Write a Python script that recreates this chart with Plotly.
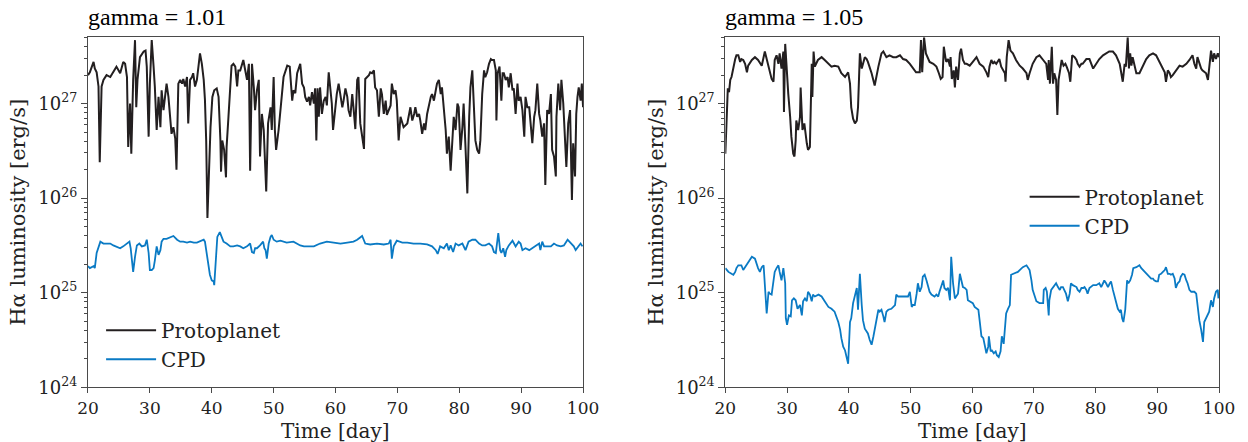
import plotly.graph_objects as go

# ---- data: (time [day], log10 Halpha luminosity [erg/s]) ----
proto_g101 = [
    (20.0, 27.30), (20.3, 27.33), (20.9, 27.44), (21.1, 27.37), (21.4, 27.33), (21.7, 27.18), (21.9, 26.38),
    (22.2, 27.18), (22.5, 27.25), (23.0, 27.30), (23.6, 27.28), (24.1, 27.33), (24.6, 27.39), (25.2, 27.32),
    (25.7, 27.44), (26.0, 27.42), (26.3, 27.28), (26.5, 26.54), (26.8, 27.00), (27.0, 26.47), (27.3, 27.25),
    (27.6, 27.67), (27.8, 26.96), (28.0, 27.25), (28.4, 27.49), (29.0, 27.55), (29.3, 27.56), (29.5, 27.39),
    (29.8, 26.65), (30.0, 27.21), (30.3, 27.67), (30.6, 27.39), (30.8, 27.18), (31.1, 26.72), (31.4, 27.07),
    (31.7, 26.75), (31.9, 27.14), (32.2, 26.93), (32.5, 27.07), (32.7, 27.21), (33.0, 27.07), (33.3, 26.82),
    (33.5, 26.68), (33.8, 26.75), (34.1, 26.63), (34.3, 26.30), (34.6, 27.21), (34.9, 27.25), (35.2, 27.21),
    (35.4, 27.26), (35.7, 27.18), (36.0, 27.28), (36.2, 26.79), (36.5, 27.25), (36.8, 27.28), (37.0, 27.32),
    (37.3, 27.18), (37.6, 27.25), (37.8, 27.39), (38.1, 27.53), (38.4, 27.42), (38.7, 27.25), (38.9, 27.04),
    (39.1, 26.61), (39.3, 25.79), (39.6, 26.51), (39.8, 26.75), (40.1, 27.07), (40.4, 27.14), (40.8, 27.16),
    (41.1, 27.07), (41.4, 26.61), (41.5, 26.28), (41.7, 26.61), (42.0, 26.51), (42.3, 26.22), (42.4, 26.54),
    (42.7, 26.86), (43.0, 27.18), (43.2, 27.40), (43.5, 27.42), (43.8, 27.39), (44.1, 27.18), (44.3, 27.35),
    (44.6, 27.35), (45.1, 27.46), (45.7, 27.25), (46.0, 27.42), (46.2, 26.29), (46.5, 27.42), (46.8, 27.17),
    (47.0, 26.93), (47.3, 27.14), (47.6, 27.25), (47.8, 26.44), (48.1, 26.89), (48.4, 26.72), (48.6, 26.44),
    (48.8, 26.07), (49.1, 26.79), (49.5, 26.96), (49.7, 26.72), (50.0, 27.28), (50.2, 26.72), (50.4, 26.51),
    (50.8, 26.72), (51.1, 26.93), (51.3, 27.14), (51.6, 27.28), (52.2, 27.40), (52.6, 27.39), (53.0, 27.03),
    (53.2, 27.14), (53.5, 27.11), (53.8, 27.32), (54.3, 27.42), (54.6, 27.21), (54.9, 27.17), (55.1, 27.07),
    (55.4, 27.02), (55.7, 27.07), (55.9, 26.98), (56.2, 27.12), (56.5, 27.00), (56.7, 27.16), (56.9, 26.61),
    (57.1, 27.16), (57.3, 26.86), (57.5, 27.17), (57.8, 26.89), (58.1, 27.03), (58.4, 27.07), (58.6, 26.98),
    (58.9, 27.33), (59.2, 27.14), (59.4, 27.00), (59.6, 26.72), (60.0, 27.03), (60.2, 27.10), (60.5, 27.21),
    (60.8, 27.07), (61.1, 26.96), (61.3, 27.03), (61.6, 27.16), (61.9, 27.07), (62.1, 26.93), (62.4, 26.86),
    (62.7, 27.10), (62.9, 26.96), (63.2, 26.73), (63.5, 27.25), (63.7, 27.28), (64.0, 26.79), (64.3, 26.65),
    (64.6, 26.52), (64.8, 27.26), (65.1, 27.28), (65.4, 27.30), (65.6, 27.33), (65.9, 27.32), (66.2, 27.35),
    (66.4, 27.17), (66.7, 27.14), (67.0, 26.86), (67.3, 27.16), (67.5, 27.10), (67.8, 26.89), (68.1, 27.03),
    (68.3, 26.88), (68.6, 26.93), (68.9, 26.98), (69.1, 27.21), (69.4, 27.10), (69.7, 27.14), (69.9, 27.03),
    (70.2, 26.61), (70.5, 26.86), (71.0, 26.75), (71.6, 26.79), (72.1, 26.96), (72.4, 26.82), (72.7, 26.89),
    (72.9, 26.96), (73.2, 26.86), (73.5, 26.89), (73.7, 26.82), (74.0, 26.68), (74.3, 26.79), (74.5, 26.72),
    (74.8, 26.89), (75.1, 27.00), (75.4, 27.07), (75.6, 27.10), (75.9, 27.03), (76.2, 27.14), (76.4, 27.21),
    (76.7, 27.25), (77.0, 27.10), (77.2, 27.17), (77.5, 26.96), (77.8, 26.72), (78.0, 26.47), (78.3, 26.65),
    (78.6, 26.29), (78.9, 26.58), (79.1, 26.86), (79.4, 26.72), (79.7, 27.00), (79.9, 26.96), (80.2, 26.51),
    (80.5, 26.75), (80.7, 27.00), (81.0, 26.54), (81.3, 26.05), (81.6, 26.86), (81.8, 27.17), (82.1, 27.35),
    (82.4, 26.79), (82.6, 26.61), (82.9, 26.51), (83.2, 26.47), (83.4, 26.61), (83.7, 27.10), (84.0, 27.35),
    (84.2, 27.28), (84.5, 27.33), (84.8, 27.42), (85.1, 27.47), (85.3, 27.46), (85.6, 27.46), (85.9, 27.35),
    (86.0, 26.82), (86.2, 27.32), (86.5, 27.39), (86.8, 27.03), (87.0, 27.32), (87.2, 27.32), (87.5, 27.25),
    (87.8, 27.28), (88.0, 27.17), (88.3, 27.32), (88.6, 27.14), (88.8, 27.16), (89.1, 26.89), (89.4, 27.21),
    (89.6, 27.03), (89.9, 27.07), (90.2, 26.93), (90.5, 26.65), (90.7, 27.07), (91.0, 26.96), (91.3, 26.96),
    (91.5, 26.79), (91.8, 26.58), (92.1, 26.86), (92.3, 26.93), (92.6, 27.21), (92.9, 26.89), (93.1, 26.82),
    (93.4, 26.65), (93.7, 26.79), (93.9, 26.14), (94.2, 26.93), (94.5, 26.89), (94.8, 27.10), (95.0, 26.51),
    (95.3, 26.44), (95.6, 26.23), (95.7, 26.86), (96.0, 27.21), (96.3, 26.93), (96.5, 27.25), (96.8, 27.00),
    (97.1, 26.58), (97.3, 26.33), (97.6, 26.79), (97.9, 26.93), (98.2, 25.98), (98.4, 26.58), (98.7, 26.23),
    (98.9, 26.89), (99.1, 27.07), (99.3, 27.17), (99.6, 27.03), (99.8, 27.21), (100.0, 26.96),
]

cpd_g101 = [
    (20.0, 25.28), (20.3, 25.26), (20.9, 25.28), (21.1, 25.26), (21.4, 25.42), (22.0, 25.54), (22.5, 25.52),
    (23.0, 25.52), (23.6, 25.52), (24.1, 25.50), (24.6, 25.49), (25.2, 25.47), (25.7, 25.49), (26.3, 25.52),
    (26.7, 25.54), (26.9, 25.47), (27.2, 25.31), (27.3, 25.22), (27.6, 25.38), (27.9, 25.50), (28.3, 25.52),
    (28.7, 25.49), (29.2, 25.50), (29.5, 25.56), (29.8, 25.42), (30.0, 25.24), (30.3, 25.24), (30.6, 25.26),
    (30.8, 25.34), (31.1, 25.49), (31.4, 25.40), (31.7, 25.45), (31.9, 25.54), (32.2, 25.57), (32.7, 25.57),
    (33.3, 25.59), (33.8, 25.60), (34.4, 25.56), (34.9, 25.54), (35.4, 25.54), (36.0, 25.53), (36.5, 25.54),
    (37.1, 25.53), (37.6, 25.53), (38.1, 25.54), (38.7, 25.56), (38.9, 25.54), (39.2, 25.42), (39.5, 25.28),
    (39.7, 25.19), (40.0, 25.13), (40.3, 25.12), (40.4, 25.08), (40.7, 25.42), (40.9, 25.59), (41.3, 25.64),
    (41.6, 25.59), (41.9, 25.54), (42.4, 25.52), (43.0, 25.49), (43.5, 25.49), (44.1, 25.50), (44.6, 25.49),
    (45.1, 25.47), (45.7, 25.49), (46.2, 25.52), (46.5, 25.43), (46.8, 25.42), (47.0, 25.47), (47.3, 25.47),
    (47.8, 25.50), (48.3, 25.54), (48.5, 25.47), (48.7, 25.45), (48.9, 25.36), (49.2, 25.52), (49.5, 25.59),
    (49.7, 25.61), (50.0, 25.56), (50.5, 25.54), (51.1, 25.55), (52.1, 25.53), (53.2, 25.54), (54.3, 25.50),
    (54.9, 25.49), (55.4, 25.49), (56.5, 25.49), (57.5, 25.52), (58.6, 25.54), (59.7, 25.53), (60.8, 25.52),
    (61.9, 25.53), (62.9, 25.54), (63.5, 25.56), (64.3, 25.60), (64.8, 25.52), (65.6, 25.51), (66.7, 25.52),
    (67.8, 25.51), (68.6, 25.52), (68.9, 25.56), (69.1, 25.36), (69.4, 25.49), (69.9, 25.55), (70.8, 25.53),
    (71.6, 25.53), (72.6, 25.52), (73.7, 25.52), (74.8, 25.51), (75.6, 25.49), (76.2, 25.45), (76.5, 25.41),
    (76.9, 25.49), (77.5, 25.47), (78.0, 25.52), (78.3, 25.45), (78.6, 25.50), (79.0, 25.43), (79.4, 25.52),
    (79.9, 25.50), (80.5, 25.52), (81.0, 25.45), (81.5, 25.54), (82.1, 25.56), (82.6, 25.56), (83.2, 25.52),
    (83.7, 25.50), (84.2, 25.50), (84.8, 25.52), (85.3, 25.49), (85.6, 25.43), (85.9, 25.42), (86.3, 25.63),
    (86.6, 25.45), (86.8, 25.42), (87.1, 25.47), (87.4, 25.38), (87.6, 25.45), (88.0, 25.50), (88.6, 25.55),
    (89.1, 25.49), (89.6, 25.54), (89.9, 25.52), (90.2, 25.45), (90.7, 25.47), (91.3, 25.45), (91.8, 25.47),
    (92.3, 25.49), (92.9, 25.52), (93.1, 25.45), (93.4, 25.54), (93.7, 25.49), (94.2, 25.49), (94.8, 25.49),
    (95.3, 25.52), (95.8, 25.50), (96.4, 25.49), (96.9, 25.50), (97.5, 25.56), (98.0, 25.52), (98.5, 25.49),
    (98.8, 25.45), (99.2, 25.49), (99.6, 25.52), (99.9, 25.49),
]

proto_g105 = [
    (20.0, 26.47), (20.2, 26.86), (20.4, 27.16), (20.6, 27.12), (20.8, 27.25), (21.0, 27.28), (21.3, 27.39),
    (21.6, 27.47), (21.8, 27.51), (22.1, 27.51), (22.4, 27.44), (22.6, 27.47), (22.9, 27.46), (23.2, 27.42),
    (23.5, 27.33), (23.7, 27.40), (24.3, 27.46), (24.8, 27.49), (25.3, 27.46), (25.9, 27.40), (26.4, 27.55),
    (26.7, 27.47), (27.0, 27.37), (27.5, 27.26), (27.8, 27.23), (28.0, 27.46), (28.3, 27.51), (28.6, 27.42),
    (28.8, 27.53), (29.1, 27.37), (29.4, 27.55), (29.5, 26.91), (29.7, 27.63), (29.9, 27.35), (30.2, 27.10),
    (30.5, 26.86), (30.7, 26.65), (31.0, 26.47), (31.2, 26.44), (31.4, 26.61), (31.5, 26.82), (31.8, 26.72),
    (32.1, 26.86), (32.2, 27.17), (32.5, 26.72), (32.8, 26.79), (33.0, 26.65), (33.2, 26.58), (33.4, 26.51),
    (33.7, 26.54), (34.0, 27.42), (34.1, 27.07), (34.3, 27.55), (34.5, 27.39), (35.0, 27.46), (35.6, 27.49),
    (36.1, 27.46), (36.7, 27.42), (37.2, 27.39), (37.7, 27.40), (38.3, 27.39), (38.8, 27.32), (39.4, 27.28),
    (39.9, 27.33), (40.2, 27.21), (40.4, 26.96), (40.7, 26.84), (41.0, 26.79), (41.3, 26.82), (41.5, 26.96),
    (41.8, 27.53), (42.1, 27.37), (42.6, 27.49), (42.9, 27.47), (43.1, 27.44), (43.7, 27.32), (44.2, 27.19),
    (44.8, 27.39), (45.3, 27.53), (45.6, 27.55), (46.1, 27.49), (46.6, 27.51), (47.2, 27.49), (47.7, 27.49),
    (48.3, 27.51), (48.8, 27.47), (49.3, 27.46), (49.9, 27.42), (50.4, 27.37), (50.9, 27.33), (51.5, 27.33),
    (51.7, 27.67), (51.9, 27.33), (52.2, 27.70), (52.5, 27.53), (52.9, 27.47), (53.1, 27.44), (53.7, 27.42),
    (54.2, 27.39), (54.6, 27.32), (54.9, 27.26), (55.2, 27.28), (55.4, 27.60), (55.7, 27.47), (55.8, 27.44),
    (56.1, 27.47), (56.4, 27.39), (56.5, 27.49), (56.7, 27.26), (57.0, 27.35), (57.2, 27.17), (57.4, 27.39),
    (57.7, 27.25), (58.0, 27.53), (58.2, 27.58), (58.5, 27.46), (58.8, 27.42), (59.1, 27.42), (59.6, 27.40),
    (60.1, 27.44), (60.7, 27.49), (61.2, 27.42), (61.8, 27.39), (62.3, 27.33), (62.6, 27.28), (62.8, 27.39),
    (63.1, 27.46), (63.4, 27.42), (63.6, 27.44), (63.9, 27.42), (64.2, 27.46), (64.4, 27.47), (64.7, 27.39),
    (65.0, 27.35), (65.3, 27.32), (65.4, 27.23), (65.6, 27.49), (65.9, 27.67), (66.2, 27.56), (66.6, 27.53),
    (67.1, 27.46), (67.7, 27.40), (68.2, 27.37), (68.8, 27.32), (69.0, 27.25), (69.3, 27.32), (69.8, 27.42),
    (70.4, 27.49), (70.9, 27.51), (71.5, 27.46), (72.0, 27.42), (72.3, 27.25), (72.4, 27.46), (72.6, 27.21),
    (72.9, 27.60), (73.1, 27.21), (73.3, 27.32), (73.6, 27.25), (73.8, 26.88), (74.0, 27.25), (74.3, 27.39),
    (74.5, 27.46), (74.8, 27.40), (75.1, 27.42), (75.3, 27.39), (75.7, 27.32), (75.9, 27.23), (76.2, 27.51),
    (76.6, 27.49), (76.9, 27.46), (77.1, 27.42), (77.4, 27.39), (77.7, 27.42), (77.9, 27.42), (78.5, 27.47),
    (79.0, 27.47), (79.6, 27.37), (80.1, 27.42), (80.6, 27.47), (81.2, 27.51), (81.7, 27.53), (82.2, 27.55),
    (82.8, 27.55), (83.3, 27.51), (83.9, 27.42), (84.1, 27.32), (84.4, 27.23), (84.7, 27.42), (84.9, 27.39),
    (85.2, 27.70), (85.4, 27.37), (85.6, 27.53), (85.8, 27.40), (86.0, 27.49), (86.3, 27.39), (86.6, 27.32),
    (87.1, 27.32), (87.6, 27.39), (88.2, 27.47), (88.7, 27.51), (89.3, 27.53), (89.8, 27.51), (90.3, 27.44),
    (90.9, 27.37), (91.2, 27.33), (91.4, 27.23), (91.7, 27.35), (92.0, 27.32), (92.2, 27.28), (92.5, 27.30),
    (93.0, 27.35), (93.6, 27.40), (94.1, 27.39), (94.7, 27.42), (95.2, 27.46), (95.7, 27.51), (96.0, 27.42),
    (96.3, 27.37), (96.5, 27.49), (96.8, 27.42), (97.1, 27.37), (97.3, 27.35), (97.9, 27.32), (98.2, 27.25),
    (98.4, 27.35), (98.7, 27.56), (99.0, 27.44), (99.2, 27.53), (99.5, 27.47), (99.8, 27.53), (100.0, 27.49),
]

cpd_g105 = [
    (20.0, 25.26), (20.5, 25.22), (21.0, 25.20), (21.3, 25.19), (21.6, 25.22), (21.8, 25.26), (22.1, 25.29),
    (22.6, 25.29), (22.9, 25.24), (23.2, 25.27), (23.5, 25.31), (23.7, 25.33), (24.3, 25.38), (24.8, 25.36),
    (25.1, 25.29), (25.3, 25.26), (25.6, 25.22), (25.9, 25.27), (26.2, 25.29), (26.4, 25.10), (26.7, 24.78),
    (27.0, 25.01), (27.2, 24.99), (27.5, 24.98), (27.8, 25.17), (28.0, 25.22), (28.3, 25.26), (28.6, 25.29),
    (28.8, 25.22), (29.1, 25.13), (29.4, 25.26), (29.7, 25.10), (29.8, 24.73), (30.0, 24.66), (30.3, 24.76),
    (30.6, 24.75), (30.8, 24.92), (31.1, 24.94), (31.4, 24.92), (31.7, 24.83), (32.1, 24.87), (32.4, 24.76),
    (32.6, 24.91), (32.9, 24.94), (33.2, 24.91), (33.4, 25.01), (33.7, 24.98), (34.0, 24.91), (34.2, 24.98),
    (34.5, 24.96), (35.1, 24.98), (35.6, 24.96), (36.1, 24.91), (36.7, 24.85), (37.2, 24.83), (37.7, 24.80),
    (38.3, 24.69), (38.6, 24.61), (38.8, 24.52), (39.1, 24.43), (39.4, 24.39), (39.6, 24.34), (39.9, 24.25),
    (40.2, 24.69), (40.4, 24.73), (40.7, 24.89), (41.0, 24.96), (41.3, 25.05), (41.5, 24.82), (41.8, 25.20),
    (42.1, 24.87), (42.3, 24.71), (42.6, 24.62), (42.9, 24.59), (43.1, 24.57), (43.4, 24.50), (43.7, 24.45),
    (44.0, 24.54), (44.2, 24.61), (44.5, 24.71), (44.8, 24.82), (45.0, 24.80), (45.3, 24.82), (45.6, 24.75),
    (45.8, 24.69), (46.1, 24.80), (46.4, 24.82), (46.9, 24.83), (47.5, 24.87), (47.7, 24.98), (48.0, 24.96),
    (48.5, 24.96), (49.1, 24.96), (49.6, 24.96), (49.9, 25.01), (50.2, 24.85), (50.4, 24.87), (50.7, 24.87),
    (51.0, 24.99), (51.2, 25.10), (51.5, 25.01), (51.8, 25.06), (52.0, 25.17), (52.3, 25.19), (52.6, 25.13),
    (52.8, 25.08), (53.1, 25.01), (53.4, 24.98), (53.9, 24.96), (54.2, 24.98), (54.5, 24.96), (54.7, 25.01),
    (55.0, 25.08), (55.3, 25.13), (55.5, 25.05), (55.8, 25.03), (56.1, 25.05), (56.4, 24.92), (56.6, 25.38),
    (56.9, 25.10), (57.2, 24.94), (57.4, 24.96), (57.7, 24.99), (58.0, 25.20), (58.2, 25.13), (58.5, 25.06),
    (58.8, 25.05), (59.1, 25.03), (59.3, 24.92), (59.6, 24.91), (60.1, 24.89), (60.4, 24.85), (60.7, 24.83),
    (61.0, 24.82), (61.2, 24.71), (61.5, 24.54), (61.8, 24.52), (62.0, 24.46), (62.3, 24.36), (62.6, 24.43),
    (62.7, 24.54), (63.0, 24.38), (63.2, 24.39), (63.5, 24.36), (63.8, 24.38), (64.0, 24.34), (64.3, 24.32),
    (64.6, 24.38), (64.8, 24.54), (65.1, 24.46), (65.4, 24.69), (65.5, 24.78), (65.8, 24.83), (66.1, 24.87),
    (66.3, 25.19), (66.6, 25.20), (67.2, 25.22), (67.4, 25.22), (67.7, 25.24), (68.2, 25.27), (68.8, 25.29),
    (69.3, 25.24), (69.6, 25.13), (69.8, 25.03), (70.4, 24.91), (70.9, 24.89), (71.5, 24.89), (71.6, 25.03),
    (71.9, 25.05), (72.1, 25.01), (72.4, 24.76), (72.5, 24.92), (72.8, 25.03), (73.3, 25.08), (73.6, 25.10),
    (73.9, 25.06), (74.2, 25.03), (74.4, 25.06), (74.7, 25.06), (75.2, 24.99), (75.5, 24.91), (75.8, 24.99),
    (76.0, 25.10), (76.3, 25.08), (76.9, 25.06), (77.1, 25.03), (77.4, 25.01), (77.7, 25.05), (78.0, 25.05),
    (78.2, 25.06), (78.5, 25.03), (78.7, 24.99), (79.0, 25.05), (79.6, 25.08), (80.1, 25.08), (80.6, 25.10),
    (80.9, 25.06), (81.2, 25.10), (81.4, 25.13), (81.7, 25.10), (82.0, 25.06), (82.3, 25.10), (82.5, 25.12),
    (82.8, 25.03), (83.1, 24.96), (83.3, 24.89), (83.6, 24.83), (83.9, 24.80), (84.1, 24.82), (84.3, 24.73),
    (84.5, 24.69), (84.8, 24.82), (85.1, 25.13), (85.3, 25.10), (85.6, 25.13), (85.9, 25.19), (86.1, 25.26),
    (86.6, 25.27), (87.1, 25.29), (87.4, 25.26), (87.7, 25.24), (88.2, 25.20), (88.5, 25.19), (88.7, 25.17),
    (89.0, 25.15), (89.3, 25.15), (89.5, 25.13), (89.8, 25.12), (90.1, 25.12), (90.3, 25.19), (90.6, 25.20),
    (90.9, 25.22), (91.2, 25.24), (91.4, 25.27), (91.7, 25.20), (92.0, 25.20), (92.2, 25.19), (92.5, 25.20),
    (92.8, 25.15), (93.0, 25.05), (93.3, 25.10), (93.6, 25.12), (93.8, 25.17), (94.1, 25.20), (94.4, 25.19),
    (94.7, 25.13), (94.9, 25.10), (95.2, 25.03), (95.5, 25.01), (95.7, 25.01), (96.0, 25.01), (96.3, 24.99),
    (96.5, 24.85), (96.8, 24.71), (97.1, 24.61), (97.4, 24.48), (97.6, 24.69), (97.9, 24.73), (98.2, 24.78),
    (98.4, 24.80), (98.7, 24.92), (99.0, 24.85), (99.2, 24.94), (99.5, 25.01), (99.8, 25.03), (99.9, 24.94),
]

panel_titles = ["gamma = 1.01", "gamma = 1.05"]
series_names = ["Protoplanet", "CPD"]
x_title = "Time [day]"
y_title = "Hα luminosity [erg/s]"
x_ticks = [20, 30, 40, 50, 60, 70, 80, 90, 100]
y_exponents = [24, 25, 26, 27]
y_ticks = [10.0 ** e for e in y_exponents]
y_ticktext = ["10<sup>%d</sup>" % e for e in y_exponents]
y_minor = [m * 10.0 ** e for e in y_exponents for m in range(2, 10)]

BLACK = "#231f20"
BLUE = "#0a7ac4"
FRAME = "#4a4a4a"
SERIF = "DejaVu Serif"
TXT = "#222222"


def unpack(pairs):
    xs = [p[0] for p in pairs]
    ys = [10 ** p[1] for p in pairs]
    return xs, ys


fig = go.Figure()
panels = [
    (proto_g101, cpd_g101, "x", "y", "legend"),
    (proto_g105, cpd_g105, "x2", "y2", "legend2"),
]
for proto, cpd, xa, ya, lg in panels:
    for pairs, name, color, width in [(proto, series_names[0], BLACK, 2.0),
                                      (cpd, series_names[1], BLUE, 1.8)]:
        xs, ys = unpack(pairs)
        fig.add_trace(go.Scatter(x=xs, y=ys, mode="lines", name=name,
                                 line=dict(color=color, width=width),
                                 xaxis=xa, yaxis=ya, legend=lg))

xdom = [[0.0705, 0.4672], [0.5812, 0.9768]]
ydom = [0.1237, 0.9156]

common_x = dict(range=[20, 100], tickvals=x_ticks, ticks="outside", ticklen=5, tickwidth=1.2,
                tickcolor=FRAME, showline=True, linecolor=FRAME, linewidth=1.2, mirror=True,
                showgrid=False, zeroline=False, automargin=False,
                tickfont=dict(family=SERIF, size=17, color=TXT))
common_y = dict(type="log", range=[24, 27.70], tickvals=y_ticks, ticktext=y_ticktext,
                ticks="outside", ticklen=6, tickwidth=1.2, tickcolor=FRAME,
                minor=dict(tickmode="array", tickvals=y_minor, ticks="outside", ticklen=3,
                           tickwidth=1, tickcolor=FRAME, showgrid=False),
                showline=True, linecolor=FRAME, linewidth=1.2, mirror=True,
                showgrid=False, zeroline=False, automargin=False,
                tickfont=dict(family=SERIF, size=18, color=TXT),
                title=dict(text=y_title, font=dict(family=SERIF, size=21, color=TXT), standoff=6))

fig.update_layout(
    width=1248, height=442,
    margin=dict(l=0, r=0, t=0, b=0),
    paper_bgcolor="white", plot_bgcolor="white",
    xaxis=dict(domain=xdom[0], anchor="y", **common_x),
    yaxis=dict(domain=ydom, anchor="x", **common_y),
    xaxis2=dict(domain=xdom[1], anchor="y2", **common_x),
    yaxis2=dict(domain=ydom, anchor="x2", **common_y),
    legend=dict(x=0.081, y=0.297, xanchor="left", yanchor="top", bgcolor="rgba(0,0,0,0)",
                itemwidth=50, font=dict(family=SERIF, size=20, color=TXT), tracegroupgap=0),
    legend2=dict(x=0.821, y=0.599, xanchor="left", yanchor="top", bgcolor="rgba(0,0,0,0)",
                 itemwidth=50, font=dict(family=SERIF, size=20, color=TXT), tracegroupgap=0),
    showlegend=True,
)

for i, t in enumerate(panel_titles):
    fig.add_annotation(text=t, xref="paper", yref="paper", x=xdom[i][0], y=1.0,
                       xanchor="left", yanchor="top", yshift=-2, xshift=-2, showarrow=False,
                       font=dict(family="Liberation Serif", size=24, color="black"))
    fig.add_annotation(text=x_title, xref="paper", yref="paper",
                       x=(xdom[i][0] + xdom[i][1]) / 2, y=0.0,
                       xanchor="center", yanchor="bottom", yshift=-2, borderpad=0,
                       showarrow=False, font=dict(family=SERIF, size=20, color=TXT))

fig.write_html("out.html")
